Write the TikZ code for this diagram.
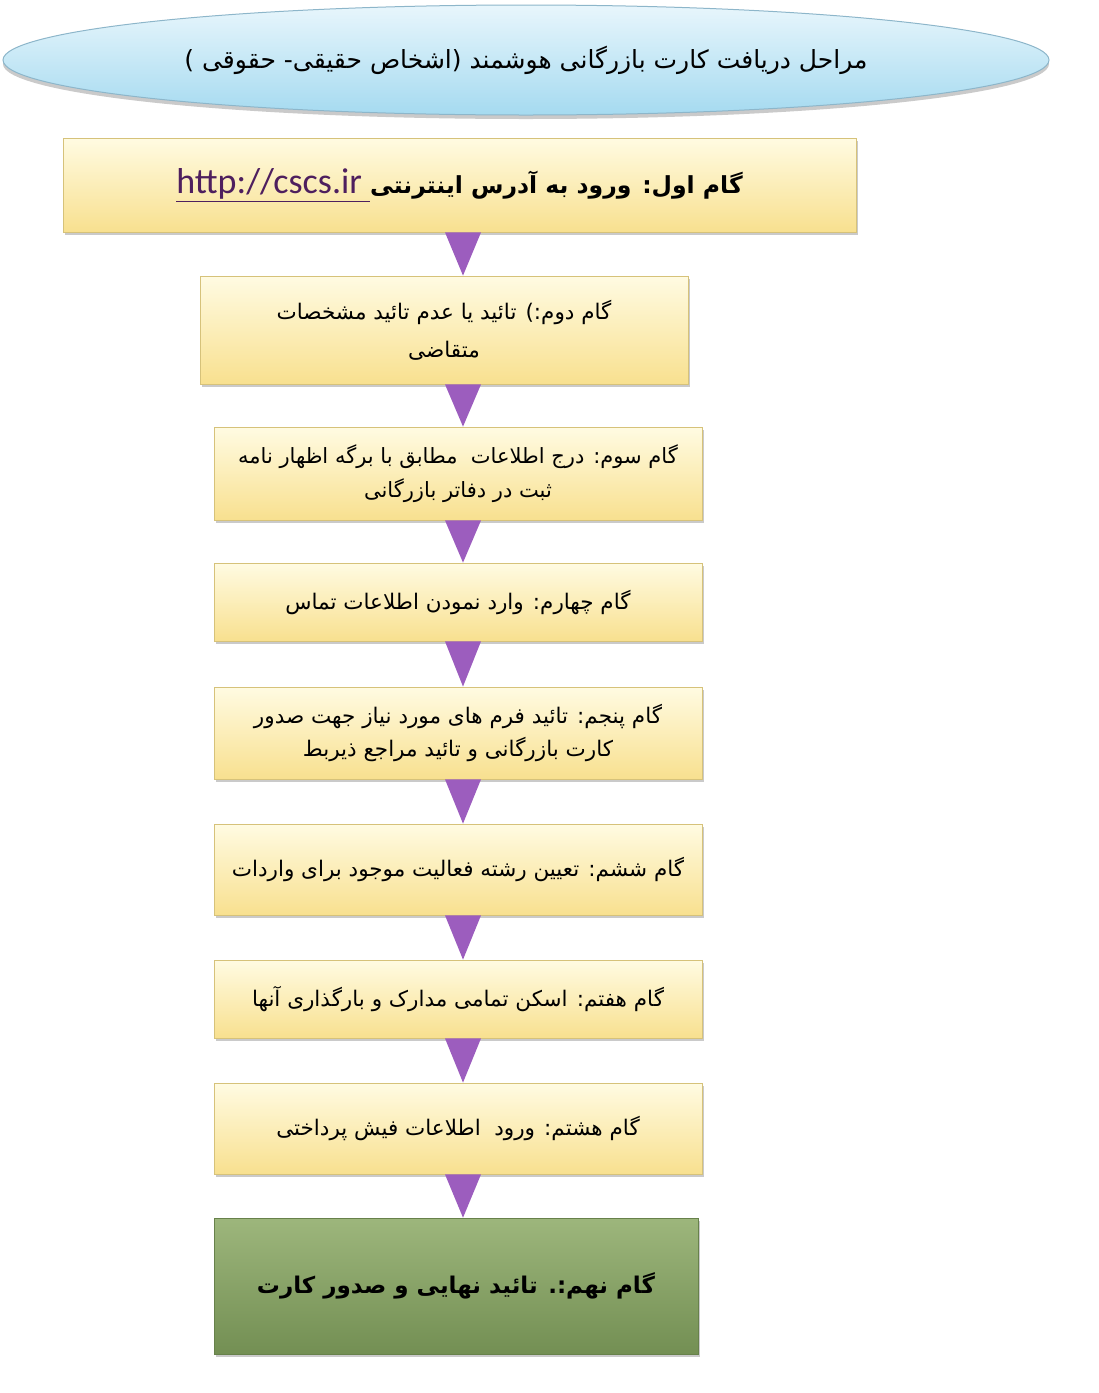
\documentclass[tikz,border=0pt]{standalone}
\usepackage{fontspec}
\usetikzlibrary{shapes.geometric,shadows,calc}
\TeXXeTstate=1
\newfontfamily\fa[Script=Arabic]{DejaVu Sans}
\newfontfamily\urlfont{Carlito}
\definecolor{ytop}{HTML}{FFFBE2}
\definecolor{ybot}{HTML}{F8E08F}
\definecolor{yborder}{HTML}{D6C27A}
\definecolor{gtop}{HTML}{9DB67C}
\definecolor{gbot}{HTML}{738F53}
\definecolor{etop}{HTML}{E8F6FC}
\definecolor{ebot}{HTML}{A5DAF0}
\definecolor{eborder}{HTML}{8DB6CA}
\definecolor{arrowpurple}{HTML}{9C5DBE}
\definecolor{linkcol}{HTML}{4E1F5E}
\tikzset{
  stepbox/.style={rectangle, draw=yborder, line width=0.8pt, top color=ytop, bottom color=ybot,
    inner sep=0pt, align=center, font=\fa\fontsize{21.5}{35}\selectfont,
    drop shadow={shadow xshift=2pt, shadow yshift=-3pt, opacity=0.35, fill=black!60}},
  finalbox/.style={rectangle, draw=gbot!90!black, line width=0.6pt, top color=gtop, bottom color=gbot,
    inner sep=0pt, align=center, font=\fa\bfseries\fontsize{23}{30}\selectfont,
    drop shadow={shadow xshift=2pt, shadow yshift=-3pt, opacity=0.35, fill=black!60}},
  titleell/.style={ellipse, draw=eborder, line width=1pt, top color=etop, bottom color=ebot,
    inner sep=0pt, font=\fa\fontsize{25}{30}\selectfont,
    drop shadow={shadow xshift=0pt, shadow yshift=-4pt, opacity=0.35, fill=black!60}},
  tri/.style={fill=arrowpurple, draw=none}
}
\begin{document}
\begin{tikzpicture}[x=1pt,y=-1pt]
\useasboundingbox (0,0) rectangle (1099,1393);
\coordinate (axis) at (463,0);
\node[titleell, minimum width=1046pt, minimum height=110pt] (title) at (526,60)
  {\beginR مراحل دریافت کارت بازرگانی هوشمند (اشخاص حقیقی- حقوقی )\endR};
\node[stepbox, minimum width=793pt, minimum height=94pt, font=\fa\bfseries\fontsize{23.5}{30}\selectfont] (b1) at (459.5,185)
  {\beginR گام اول: ورود به آدرس اینترنتی\beginL{\urlfont\mdseries\fontsize{36}{36}\selectfont\color{linkcol}\underline{http://cscs.ir\ }}\endL\endR};
\node[stepbox, minimum width=488pt, minimum height=108pt, font=\fa\fontsize{21.5}{38}\selectfont] (b2) at (444,330)
  {\beginR گام دوم:) تائید یا عدم تائید مشخصات\endR\\\beginR متقاضی\endR};
\node[stepbox, minimum width=488pt, minimum height=93pt, font=\fa\fontsize{21}{34}\selectfont] (b3) at (458,473.5)
  {\beginR گام سوم: درج اطلاعات\ \ مطابق با برگه اظهار نامه\endR\\\beginR ثبت در دفاتر بازرگانی\endR};
\node[stepbox, minimum width=488pt, minimum height=78pt] (b4) at (458,602)
  {\beginR گام چهارم: وارد نمودن اطلاعات تماس\endR};
\node[stepbox, minimum width=488pt, minimum height=92pt, font=\fa\fontsize{21.5}{33}\selectfont] (b5) at (458,733)
  {\beginR گام پنجم: تائید فرم های مورد نیاز جهت صدور\endR\\\beginR کارت بازرگانی و تائید مراجع ذیربط\endR};
\node[stepbox, minimum width=488pt, minimum height=91pt] (b6) at (458,869.5)
  {\beginR گام ششم: تعیین رشته فعالیت موجود برای واردات\endR};
\node[stepbox, minimum width=488pt, minimum height=78pt] (b7) at (458,999)
  {\beginR گام هفتم: اسکن تمامی مدارک و بارگذاری آنها\endR};
\node[stepbox, minimum width=488pt, minimum height=91pt] (b8) at (458,1128.5)
  {\beginR گام هشتم: ورود\ \ اطلاعات فیش پرداختی\endR};
\node[finalbox, minimum width=484pt, minimum height=136pt] (b9) at (456,1286)
  {\beginR گام نهم:. تائید نهایی و صدور کارت\endR};
\foreach \a/\b in {b1/b2,b2/b3,b3/b4,b4/b5,b5/b6,b6/b7,b7/b8,b8/b9}{
  \fill[tri] ($(\a.south -| axis)+(-18,0)$) -- ($(\a.south -| axis)+(18,0)$) -- (\b.north -| axis) -- cycle;
}
\end{tikzpicture}
\end{document}
